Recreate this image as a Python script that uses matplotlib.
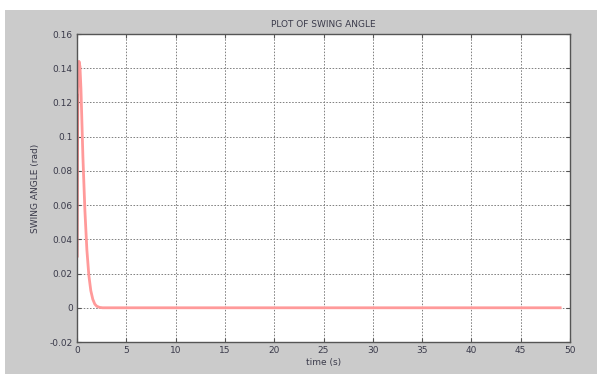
import numpy as np
import matplotlib
matplotlib.use("Agg")
import matplotlib.pyplot as plt
from matplotlib.patches import Rectangle
from matplotlib.ticker import FuncFormatter

# swing angle response
time_s = [0.0, 0.05, 0.1, 0.2, 0.3, 0.4, 0.5, 0.6, 0.8, 1.0, 1.2, 1.4,
          1.6, 1.8, 2.0, 2.3, 2.6, 3.0, 5.0, 10.0, 20.0, 30.0, 40.0, 49.0]
swing = [0.03, 0.09, 0.128, 0.144, 0.141, 0.128, 0.108, 0.088, 0.057,
         0.034, 0.019, 0.010, 0.005, 0.0022, 0.0009, 0.0002, 0.0, 0.0,
         0.0, 0.0, 0.0, 0.0, 0.0, 0.0]
x_ticks = [0, 5, 10, 15, 20, 25, 30, 35, 40, 45, 50]
y_ticks = [-0.02, 0, 0.02, 0.04, 0.06, 0.08, 0.1, 0.12, 0.14, 0.16]

grey = "#cbcbcb"
txt = "#3a3a4a"

fig = plt.figure(figsize=(6.0, 3.74), dpi=100, facecolor="white")
fig.patches.append(Rectangle((5 / 600, 0), 592 / 600, 364 / 374,
                             transform=fig.transFigure, facecolor=grey,
                             edgecolor="none", zorder=-10))

ax = fig.add_axes([77 / 600, 32 / 374, 493 / 600, 308 / 374])
ax.set_facecolor("white")
ax.plot(time_s, swing, color="#ff9a9a", linewidth=2.0)
ax.plot([0, 0], [0.03, 0.125], color="#b03030", linewidth=1.0)

ax.set_xlim(0, 50)
ax.set_ylim(-0.02, 0.16)
ax.set_xticks(x_ticks)
ax.set_yticks(y_ticks)
ax.yaxis.set_major_formatter(FuncFormatter(lambda v, p: f"{v:g}"))
ax.grid(True, color="#808080", linestyle=(0, (1.6, 1.6)), linewidth=0.7)
ax.tick_params(direction="in", length=3, labelsize=6.5, colors="#555555",
               labelcolor=txt, top=True, right=True, pad=3)
for sp in ax.spines.values():
    sp.set_color("#555555")
    sp.set_linewidth(1.0)

ax.set_title("PLOT OF SWING ANGLE", fontsize=6.5, color=txt, pad=5)
ax.set_xlabel("time (s)", fontsize=6.5, color=txt, labelpad=2)
ax.set_ylabel("SWING ANGLE (rad)", fontsize=6.5, color=txt, labelpad=7)

plt.savefig("out.png", dpi=100, facecolor=fig.get_facecolor())
